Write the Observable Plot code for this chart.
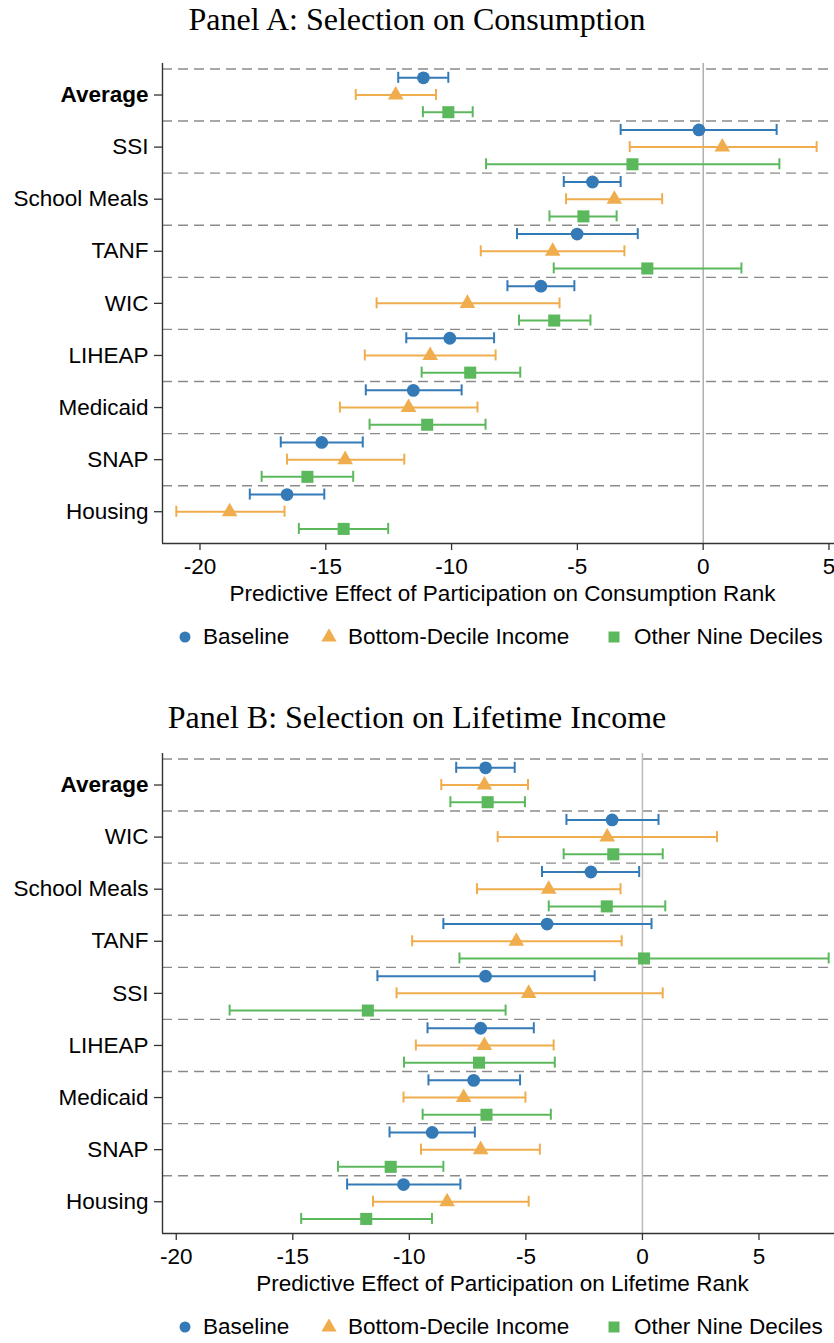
<!DOCTYPE html>
<html>
<head>
<meta charset="utf-8">
<script src="https://cdn.jsdelivr.net/npm/d3@7"></script>
<script src="https://cdn.jsdelivr.net/npm/@observablehq/plot@0.6"></script>
<style>
  body { margin: 0; background: #fff; }
  #page { position: relative; width: 834px; height: 1343px; overflow: hidden;
          font-family: "Liberation Sans", Arial, sans-serif; color: #000; }
  .title { position: absolute; left: 0; width: 834px; text-align: center;
           font-family: "Liberation Serif", "Times New Roman", serif;
           font-size: 32px; line-height: 1; white-space: nowrap; }
  .legend-text { position: absolute; font-size: 22.5px; line-height: 1; white-space: nowrap; }
  .legend-sym { position: absolute; }
  svg.panel { position: absolute; left: 0; }
</style>
</head>
<body>
<div id="page"></div>
<script>
// Series shown in both panels
const seriesNames = ["Baseline", "Bottom-Decile Income", "Other Nine Deciles"];
const seriesColors = ["#337ab7", "#f0ad4e", "#5cb85c"];
const seriesSymbols = ["circle", "triangle", "square"];

// Panel A: selection on consumption
const categoriesA = ["Average", "SSI", "School Meals", "TANF", "WIC", "LIHEAP", "Medicaid", "SNAP", "Housing"];
const baselineEstA = [-11.12, -0.17, -4.40, -5.01, -6.45, -10.07, -11.52, -15.16, -16.54];
const baselineLoA  = [-12.12, -3.28, -5.54, -7.40, -7.78, -11.80, -13.41, -16.79, -18.02];
const baselineHiA  = [-10.13,  2.92, -3.28, -2.60, -5.12,  -8.31,  -9.60, -13.53, -15.06];
const bottomEstA   = [-12.22,  0.76, -3.53, -5.98, -9.37, -10.85, -11.71, -14.23, -18.82];
const bottomLoA    = [-13.81, -2.92, -5.45, -8.84, -12.98, -13.45, -14.44, -16.54, -20.94];
const bottomHiA    = [-10.62,  4.51, -1.63, -3.13, -5.71,  -8.25,  -8.97, -11.88, -16.64];
const otherEstA    = [-10.13, -2.81, -4.76, -2.22, -5.92,  -9.26, -10.97, -15.73, -14.29];
const otherLoA     = [-11.14, -8.63, -6.11, -5.94, -7.32, -11.19, -13.26, -17.55, -16.07];
const otherHiA     = [ -9.16,  3.03, -3.44,  1.52, -4.48,  -7.27,  -8.65, -13.91, -12.52];

// Panel B: selection on lifetime income
const categoriesB = ["Average", "WIC", "School Meals", "TANF", "SSI", "LIHEAP", "Medicaid", "SNAP", "Housing"];
const baselineEstB = [-6.73, -1.30, -2.21, -4.09,  -6.73, -6.94, -7.24,  -9.02, -10.25];
const baselineLoB  = [-7.99, -3.26, -4.31, -8.54, -11.37, -9.22, -9.18, -10.85, -12.67];
const baselineHiB  = [-5.48,  0.69, -0.14,  0.39,  -2.05, -4.66, -5.25,  -7.19,  -7.81];
const bottomEstB   = [-6.78, -1.51, -4.02, -5.41,  -4.88, -6.78, -7.67,  -6.94,  -8.38];
const bottomLoB    = [-8.63, -6.21, -7.10, -9.88, -10.55, -9.72, -10.25, -9.50, -11.56];
const bottomHiB    = [-4.91,  3.20, -0.94, -0.89,   0.87, -3.81, -5.02,  -4.40,  -4.88];
const otherEstB    = [-6.64, -1.25, -1.53,  0.07, -11.78, -7.01, -6.69, -10.80, -11.85];
const otherLoB     = [-8.24, -3.38, -4.02, -7.85, -17.71, -10.23, -9.43, -13.06, -14.64];
const otherHiB     = [-5.04,  0.87,  0.98,  7.99,  -5.87, -3.76, -3.93,  -8.54,  -9.03];

const xTicks = [-20, -15, -10, -5, 0, 5];

// Vertical offset of each series inside a program's row
const seriesOffset = [-0.33, 0, 0.33];

const page = document.getElementById("page");

function drawPanel(cfg) {
  const {top, title, titleTop, categories, est, lo, hi, xDomain, xLabel, zeroColor, zeroWidth} = cfg;

  const t = document.createElement("div");
  t.className = "title";
  t.style.top = titleTop + "px";
  t.textContent = title;
  page.appendChild(t);

  const rows = [];
  seriesNames.forEach((s, k) => {
    categories.forEach((c, i) => {
      rows.push({series: s, k, row: i, y: i + seriesOffset[k], est: est[k][i], lo: lo[k][i], hi: hi[k][i]});
    });
  });
  const separators = categories.map((_, i) => i - 0.5);
  const yDomain = [-0.605, 8.61];

  const svg = Plot.plot({
    width: 834,
    height: 570,
    marginTop: 23,
    marginBottom: 67,
    marginLeft: 162,
    marginRight: 0,
    x: {domain: xDomain},
    y: {domain: yDomain, reverse: true},
    color: {domain: seriesNames, range: seriesColors},
    style: {fontFamily: "'Liberation Sans', Arial, sans-serif", fontSize: "22.5px", color: "#000", background: "transparent", overflow: "visible"},
    marks: [
      Plot.ruleY(separators, {y: d => d, stroke: "#8a8a8a", strokeWidth: 1.4, strokeDasharray: "10,6"}),
      Plot.ruleX([0], {stroke: zeroColor, strokeWidth: zeroWidth}),
      Plot.ruleY(rows, {y: "y", x1: "lo", x2: "hi", stroke: "series", strokeWidth: 2}),
      Plot.ruleX(rows, {x: "lo", y1: "y", y2: "y", insetTop: -5.5, insetBottom: -5.5, stroke: "series", strokeWidth: 2}),
      Plot.ruleX(rows, {x: "hi", y1: "y", y2: "y", insetTop: -5.5, insetBottom: -5.5, stroke: "series", strokeWidth: 2}),
      Plot.dot(rows.filter(d => d.k === 0), {x: "est", y: "y", symbol: "circle", r: 6.4, fill: "series"}),
      Plot.dot(rows.filter(d => d.k === 1), {x: "est", y: "y", symbol: "triangle", r: 5.8, fill: "series"}),
      Plot.dot(rows.filter(d => d.k === 2), {x: "est", y: "y", symbol: "square", r: 6.8, fill: "series"}),
      Plot.ruleX([xDomain[0]], {stroke: "#333", strokeWidth: 1.4}),
      Plot.ruleY([yDomain[1]], {stroke: "#333", strokeWidth: 1.4}),
      Plot.axisY({ticks: d3.range(categories.length), tickFormat: i => categories[i], tickSize: 8, tickPadding: 6, stroke: "#333", strokeWidth: 1.3, label: null, fontSize: 22.5}),
      Plot.axisX({ticks: xTicks, tickFormat: d => String(d), tickSize: 7, tickPadding: 8, stroke: "#333", strokeWidth: 1.3, label: null, fontSize: 22.5}),
      Plot.text([xLabel], {text: d => d, frameAnchor: "bottom", dy: 57, dx: 4, fontSize: 22.5})
    ]
  });
  svg.classList.add("panel");
  svg.style.top = (top + 40) + "px";
  d3.select(svg).selectAll("text").filter(function () { return this.textContent === "Average"; })
    .attr("font-weight", "bold");
  page.appendChild(svg);

  // Legend row under the panel
  const legendY = top + 637;
  const items = [
    {cx: 185, tx: 203},
    {cx: 329, tx: 348},
    {cx: 614, tx: 634}
  ];
  items.forEach((it, k) => {
    const s = d3.create("svg").attr("class", "legend-sym").attr("width", 16).attr("height", 16)
      .style("left", (it.cx - 8) + "px").style("top", (legendY - 8) + "px");
    const sym = {circle: d3.symbolCircle, triangle: d3.symbolTriangle, square: d3.symbolSquare}[seriesSymbols[k]];
    const size = [95, 100, 121][k];
    s.append("path").attr("transform", "translate(8,8)").attr("d", d3.symbol(sym, size)()).attr("fill", seriesColors[k]);
    page.appendChild(s.node());
    const tx = document.createElement("div");
    tx.className = "legend-text";
    tx.style.left = it.tx + "px";
    tx.style.top = (legendY - 11) + "px";
    tx.textContent = seriesNames[k];
    page.appendChild(tx);
  });
}

drawPanel({
  top: 0,
  titleTop: 3,
  title: "Panel A: Selection on Consumption",
  categories: categoriesA,
  est: [baselineEstA, bottomEstA, otherEstA],
  lo: [baselineLoA, bottomLoA, otherLoA],
  hi: [baselineHiA, bottomHiA, otherHiA],
  xDomain: [-21.49, 5.22],
  xLabel: "Predictive Effect of Participation on Consumption Rank",
  zeroColor: "#888",
  zeroWidth: 1
});

drawPanel({
  top: 690,
  titleTop: 701,
  title: "Panel B: Selection on Lifetime Income",
  categories: categoriesB,
  est: [baselineEstB, bottomEstB, otherEstB],
  lo: [baselineLoB, bottomLoB, otherLoB],
  hi: [baselineHiB, bottomHiB, otherHiB],
  xDomain: [-20.59, 8.24],
  xLabel: "Predictive Effect of Participation on Lifetime Rank",
  zeroColor: "#bbb",
  zeroWidth: 1.5
});
</script>
</body>
</html>
